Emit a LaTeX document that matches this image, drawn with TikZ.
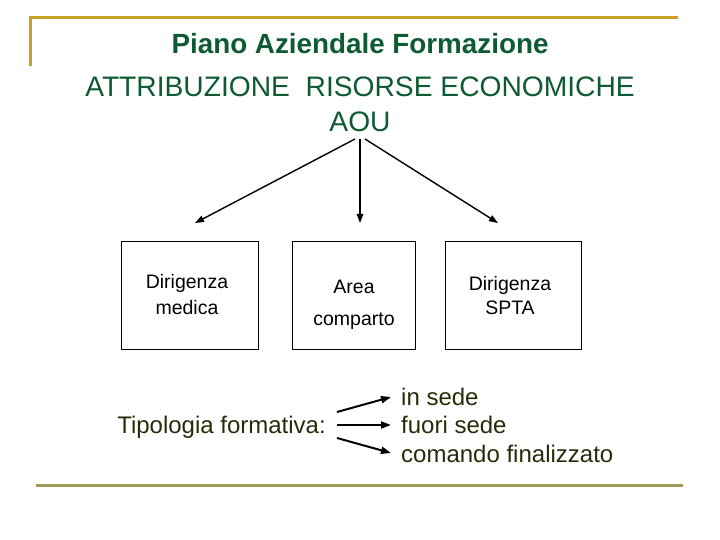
\documentclass[tikz,border=0pt]{standalone}
\usepackage{fontspec}
\setmainfont{Liberation Sans}
\usetikzlibrary{arrows.meta}
\definecolor{gold}{HTML}{C9A227}
\definecolor{olive}{HTML}{A09A55}
\definecolor{dgreen}{HTML}{0E5A32}
\definecolor{dtext}{HTML}{2A2A0A}
\tikzset{
  box/.style={draw=black, line width=0.8pt, minimum width=137pt, minimum height=108pt, inner sep=0pt},
  boxtxt/.style={font=\fontsize{19.5}{22}\selectfont, align=center, inner sep=0pt},
  ttl/.style={text=dgreen, inner sep=0pt, anchor=base},
  arr/.style={line width=1.4pt, -{Triangle[length=9pt,width=6.5pt]}},
  arrb/.style={line width=2pt, -{Triangle[length=10pt,width=7pt]}},
  lst/.style={text=dtext, font=\fontsize{24}{28}\selectfont, inner sep=0pt, anchor=base west},
}
\begin{document}
\begin{tikzpicture}[x=1pt,y=-1pt]
\useasboundingbox (0,0) rectangle (720,540);
% decorative lines
\draw[gold, line width=3pt] (30,66) -- (30,18) -- (678,18);
\draw[olive, line width=3pt] (36,485) -- (683,485);
% titles
\node[ttl, font=\fontsize{27.8}{30}\selectfont\bfseries] (t1) at (360,54) {Piano Aziendale Formazione};
\node[ttl, font=\fontsize{28.2}{30}\selectfont] (t2) at (360,97) {ATTRIBUZIONE\ \ RISORSE ECONOMICHE};
\node[ttl, font=\fontsize{28.2}{30}\selectfont] (t3) at (360,132) {AOU};
% boxes
\node[box, minimum width=137pt] (b1) at (189.5,295) {};
\node[box, minimum width=123pt] (b2) at (353.5,295) {};
\node[box, minimum width=136pt] (b3) at (513,295) {};
\node[boxtxt] (b1t) at (187,295) {Dirigenza\\[4pt]medica};
\node[boxtxt] (b2t) at (354,305) {Area\\[10pt]comparto};
\node[boxtxt] (b3t) at (510,296) {Dirigenza\\[2pt]SPTA};
% top arrows
\coordinate (s1) at (355,139);
\coordinate (s2) at (360,139);
\coordinate (s3) at (365,139);
\coordinate (e1) at (195,223);
\coordinate (e2) at (360,223);
\coordinate (e3) at (498,223);
\draw[arr] (s1) -- (e1);
\draw[arr] (s2) -- (e2);
\draw[arr] (s3) -- (e3);
% bottom
\node[text=dtext, font=\fontsize{24}{28}\selectfont, inner sep=0pt, anchor=base east] (tip) at (326,433) {Tipologia formativa:};
\node[lst] (l1) at (401,405) {in sede};
\node[lst] (l2) at (401,433) {fuori sede};
\node[lst] (l3) at (401,462) {comando finalizzato};
\coordinate (a1) at (337,412);
\coordinate (a2) at (337,425);
\coordinate (a3) at (337,438);
\coordinate (f1) at (391,397);
\coordinate (f2) at (391,425);
\coordinate (f3) at (391,453);
\draw[arrb] (a1) -- (f1);
\draw[arrb] (a2) -- (f2);
\draw[arrb] (a3) -- (f3);
\end{tikzpicture}
\end{document}
